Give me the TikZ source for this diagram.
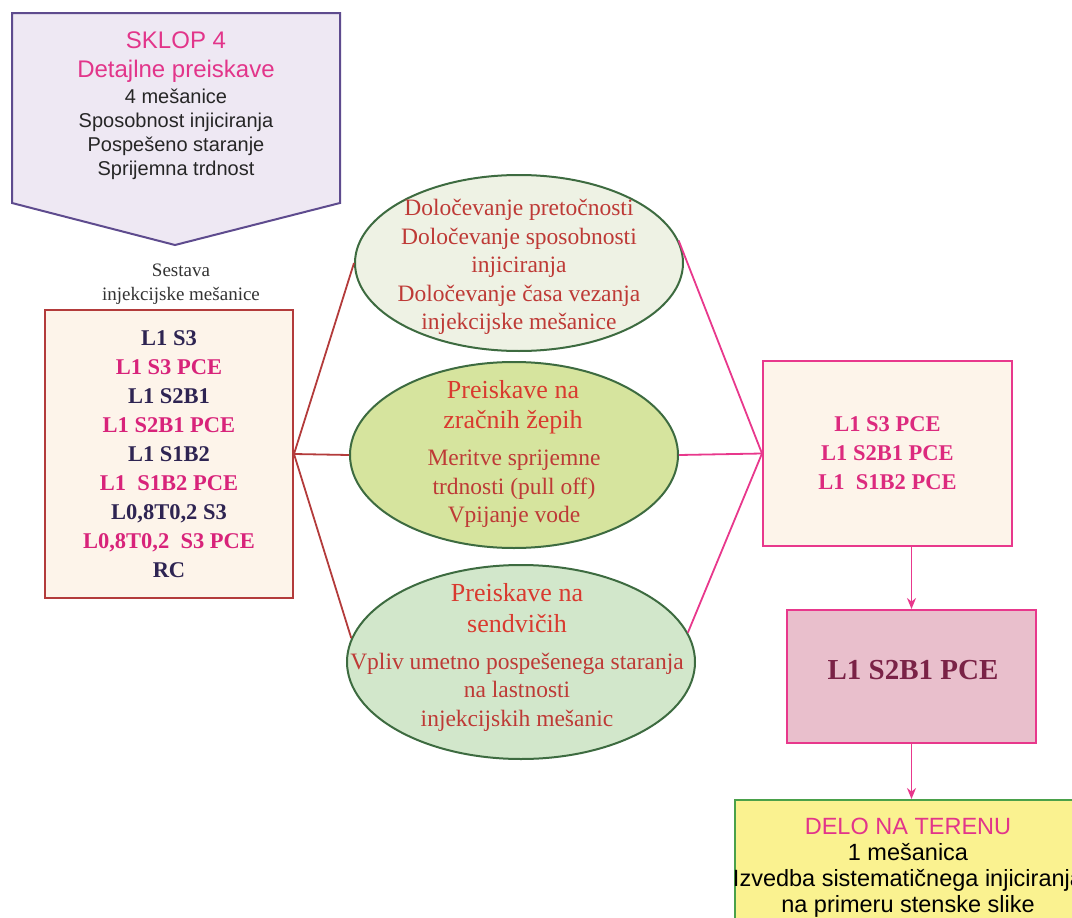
\documentclass[tikz,border=0pt]{standalone}
\usepackage{fontspec}
\setmainfont{Liberation Serif}
\setsansfont{Liberation Sans}
\usepackage{xcolor}
\usepackage{tikz}
\usetikzlibrary{shapes.geometric, arrows.meta, positioning}
\definecolor{sklopfill}{HTML}{EEE8F3}
\definecolor{sklopline}{HTML}{5E4B8E}
\definecolor{titlepink}{HTML}{E2358A}
\definecolor{mixnavy}{HTML}{2E2452}
\definecolor{mixpink}{HTML}{D8237A}
\definecolor{mixfill}{HTML}{FDF4EA}
\definecolor{mixline}{HTML}{B33B3B}
\definecolor{ovaltext}{HTML}{BE3A36}
\definecolor{headred}{HTML}{D93A2F}
\definecolor{ovalline}{HTML}{3D6B40}
\definecolor{ovalfilla}{HTML}{EEF2E4}
\definecolor{ovalfillb}{HTML}{D6E49E}
\definecolor{ovalfillc}{HTML}{D2E7CB}
\definecolor{pceline}{HTML}{E8388C}
\definecolor{pcetext}{HTML}{DC2A7E}
\definecolor{selfill}{HTML}{E9BFCC}
\definecolor{seltext}{HTML}{7A2246}
\definecolor{delofill}{HTML}{FAF290}
\definecolor{deloline}{HTML}{4AA14A}
\tikzset{
  mixbox/.style={rectangle, draw=mixline, fill=mixfill, line width=2pt,
                 align=center, font=\bfseries\fontsize{22.5}{29}\selectfont},
  oval/.style={ellipse, draw=ovalline, line width=2pt, inner sep=0pt},
  ovaltxt/.style={align=center, text=ovaltext, font=\fontsize{23.5}{28.5}\selectfont},
  ovalhead/.style={align=center, text=headred, font=\fontsize{26}{30.5}\selectfont},
  pcebox/.style={rectangle, draw=pceline, line width=2pt, align=center},
  mixlink/.style={draw=mixline, line width=1.8pt},
  pcelink/.style={draw=pceline, line width=1.8pt},
  pcearrow/.style={-{Stealth[length=11pt,width=9pt]}, draw=pceline, line width=1.8pt},
}

\begin{document}
\begin{tikzpicture}[x=1pt, y=-1pt]
    \useasboundingbox (0,0) rectangle (1072,918);
    % SKLOP 4
    \draw[fill=sklopfill, draw=sklopline, line width=2pt]
      (12,13) -- (340,13) -- (340,203) -- (175,245) -- (12,203) -- cycle;
    \node[align=center, text=titlepink, font=\sffamily\fontsize{24}{29}\selectfont]
      (sklophead) at (176,57) {SKLOP 4\\Detajlne preiskave};
    \node[align=center, text=black!85, font=\sffamily\fontsize{20}{24}\selectfont,
      below=0pt of sklophead] (sklopbody)
      {4 mešanice\\Sposobnost injiciranja\\Pospešeno staranje\\Sprijemna trdnost};
    % mixtures
    \node[align=center, text=black!80, font=\fontsize{19}{24}\selectfont]
      (sestava) at (181,284) {Sestava\\injekcijske mešanice};
    \node[mixbox, minimum width=248pt, minimum height=288pt] (mix) at (169,454)
      {\textcolor{mixnavy}{L1 S3}\\
       \textcolor{mixpink}{L1 S3 PCE}\\
       \textcolor{mixnavy}{L1 S2B1}\\
       \textcolor{mixpink}{L1 S2B1 PCE}\\
       \textcolor{mixnavy}{L1 S1B2}\\
       \textcolor{mixpink}{L1\ \ S1B2 PCE}\\
       \textcolor{mixnavy}{L0,8T0,2 S3}\\
       \textcolor{mixpink}{L0,8T0,2\ \ S3 PCE}\\
       \textcolor{mixnavy}{RC}};
    % tests
    \node[oval, fill=ovalfilla, minimum width=328pt, minimum height=176pt] (ova) at (519,263) {};
    \node[ovaltxt] (ovatxt) at (519,267)
      {Določevanje pretočnosti\\Določevanje sposobnosti\\injiciranja\\Določevanje časa vezanja\\injekcijske mešanice};
    \node[oval, fill=ovalfillb, minimum width=328pt, minimum height=186pt] (ovb) at (514,455) {};
    \node[ovalhead] (ovbhead) at (513,407) {Preiskave na\\zračnih žepih};
    \node[ovaltxt] (ovbtxt) at (514,489)
      {Meritve sprijemne\\trdnosti (pull off)\\Vpijanje vode};
    \node[oval, fill=ovalfillc, minimum width=348pt, minimum height=194pt] (ovc) at (521,662) {};
    \node[ovalhead] (ovchead) at (517,608) {Preiskave na\\sendvičih};
    \node[ovaltxt] (ovctxt) at (517,692)
      {Vpliv umetno pospešenega staranja\\na lastnosti\\injekcijskih mešanic};
    % selected
    \node[pcebox, fill=mixfill, minimum width=249pt, minimum height=185pt,
      text=pcetext, font=\bfseries\fontsize{22.5}{29}\selectfont] (pce) at (887.5,453.5)
      {L1 S3 PCE\\L1 S2B1 PCE\\L1\ \ S1B2 PCE};
    \node[pcebox, fill=selfill, minimum width=249pt, minimum height=133pt] (sel) at (911.5,676.5) {};
    \node[text=seltext, font=\bfseries\fontsize{29}{34}\selectfont] (seltxt) at (913,670) {L1 S2B1 PCE};
    \node[rectangle, draw=deloline, fill=delofill, line width=2pt,
      minimum width=355pt, minimum height=135pt] (delo) at (912.5,867.5) {};
    \node[align=center, font=\sffamily\fontsize{23.5}{26}\selectfont] (delotxt) at (908,868)
      {\textcolor{titlepink}{DELO NA TERENU}\\1 mešanica\\Izvedba sistematičnega injiciranja\\na primeru stenske slike};
    % links
    \draw[mixlink] (mix.east) -- (ova.west);
    \draw[mixlink] (mix.east) -- (ovb.west);
    \draw[mixlink] (mix.east) -- (ovc.172);
    \draw[pcelink] (ova.8) -- (pce.west);
    \draw[pcelink] (ovb.east) -- (pce.west);
    \draw[pcelink] (ovc.10) -- (pce.west);
    \draw[pcearrow] (sel.north |- pce.south) -- (sel.north);
    \draw[pcearrow] (sel.south) -- (sel.south |- delo.north);
  \end{tikzpicture}
\end{document}
